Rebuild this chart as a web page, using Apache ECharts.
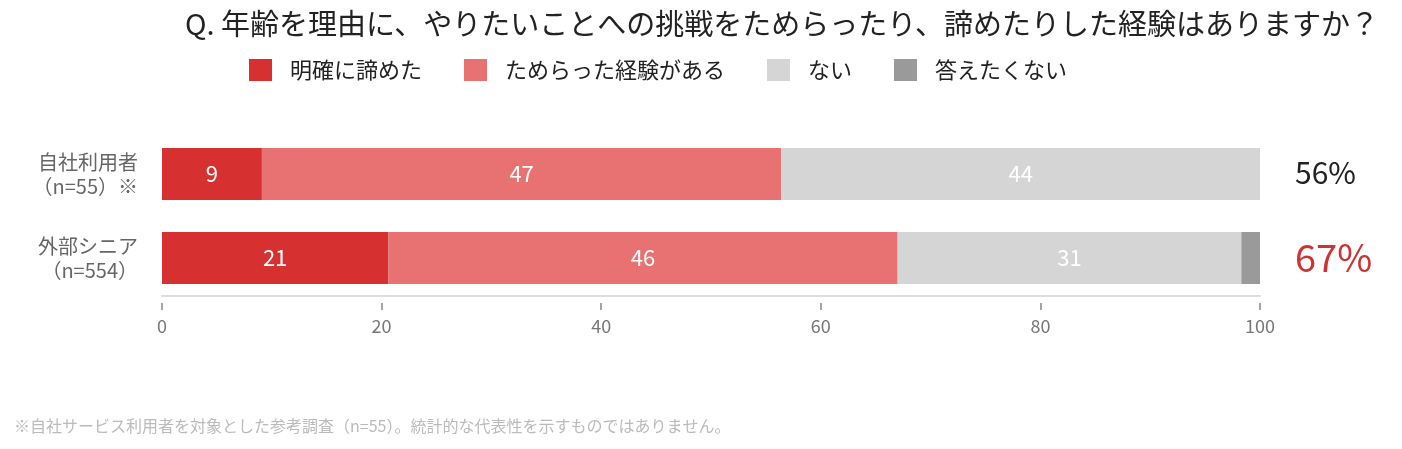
<!DOCTYPE html>
<html>
<head>
<meta charset="utf-8">
<script src="https://cdn.jsdelivr.net/npm/echarts@6/dist/echarts.min.js"></script>
<style>
html,body{margin:0;padding:0;background:#fff;}
#chart{width:1402px;height:449px;}
</style>
</head>
<body>
<div id="chart"></div>
<script>
const categories = ['自社利用者\n（n=55）※', '外部シニア\n（n=554）'];
const seriesNames = ['明確に諦めた', 'ためらった経験がある', 'ない', '答えたくない'];
const clearlyGaveUp = [9.1, 20.6];
const hesitated = [47.3, 46.4];
const none = [43.6, 31.3];
const noAnswer = [0, 1.7];
const totals = ['56%', '67%'];
const xTicks = [0, 20, 40, 60, 80, 100];

const colors = ['#d63031', '#e87272', '#d5d5d5', '#9a9a9a'];
const FONT = '"Noto Sans CJK JP", "Noto Sans", sans-serif';

const chart = echarts.init(document.getElementById('chart'));

function mkSeries(name, data, color, showLabel) {
  return {
    name: name,
    type: 'bar',
    stack: 'total',
    data: data,
    barWidth: 52,
    xAxisIndex: 0,
    yAxisIndex: 0,
    itemStyle: { color: color },
    emphasis: { disabled: true },
    label: {
      show: showLabel,
      position: 'inside',
      color: '#fff',
      fontSize: 22,
      fontFamily: FONT,
      formatter: p => p.value > 0 ? String(Math.round(p.value)) : ''
    }
  };
}

chart.setOption({
  animation: false,
  textStyle: { fontFamily: FONT },
  title: [
    {
      text: 'Q. 年齢を理由に、やりたいことへの挑戦をためらったり、諦めたりした経験はありますか？',
      left: 185,
      top: 9,
      padding: 0,
      textStyle: { fontSize: 29, fontWeight: 'normal', color: '#222', fontFamily: FONT }
    },
    {
      text: '※自社サービス利用者を対象とした参考調査（n=55）。統計的な代表性を示すものではありません。',
      left: 14,
      top: 418,
      padding: 0,
      textStyle: { fontSize: 16, fontWeight: 'normal', color: '#bbb', fontFamily: FONT }
    }
  ],
  legend: {
    data: seriesNames,
    left: 249,
    top: 59,
    padding: 0,
    itemWidth: 23,
    itemHeight: 22,
    itemGap: 42,
    icon: 'rect',
    textStyle: { fontSize: 22, color: '#222', fontFamily: FONT, padding: [0, 0, 0, 13] }
  },
  grid: { left: 162, right: 142, top: 132, height: 168, containLabel: false },
  xAxis: [
    {
      type: 'value',
      min: xTicks[0],
      max: xTicks[xTicks.length - 1],
      interval: 20,
      offset: 3,
      axisLine: { show: false },
      axisTick: { show: true, length: 7, lineStyle: { color: '#888', width: 1.5 } },
      axisLabel: { color: '#777', fontSize: 18, margin: 14, fontFamily: FONT },
      splitLine: { show: false }
    },
    {
      type: 'value',
      min: xTicks[0],
      max: xTicks[xTicks.length - 1],
      interval: 20,
      position: 'bottom',
      offset: -4,
      axisLine: { show: true, lineStyle: { color: '#ddd', width: 2 } },
      axisTick: { show: false },
      axisLabel: { show: false },
      splitLine: { show: false }
    }
  ],
  yAxis: [
    {
      type: 'category',
      data: categories,
      inverse: true,
      axisLine: { show: false },
      axisTick: { show: false },
      axisLabel: { color: '#666', fontSize: 20, lineHeight: 24, margin: 24, align: 'right', fontFamily: FONT }
    },
    {
      type: 'category',
      data: totals,
      inverse: true,
      position: 'right',
      axisLine: { show: false },
      axisTick: { show: false },
      axisLabel: {
        margin: 35,
        align: 'left',
        formatter: (v, i) => i === 1 ? '{b|' + v + '}' : '{a|' + v + '}',
        rich: {
          a: { fontSize: 30, color: '#222', fontFamily: FONT, padding: [0, 0, 3, 0] },
          b: { fontSize: 38, color: '#cc3333', fontFamily: FONT }
        }
      }
    }
  ],
  series: [
    mkSeries(seriesNames[0], clearlyGaveUp, colors[0], true),
    mkSeries(seriesNames[1], hesitated, colors[1], true),
    mkSeries(seriesNames[2], none, colors[2], true),
    mkSeries(seriesNames[3], noAnswer, colors[3], false)
  ]
});
</script>
</body>
</html>
